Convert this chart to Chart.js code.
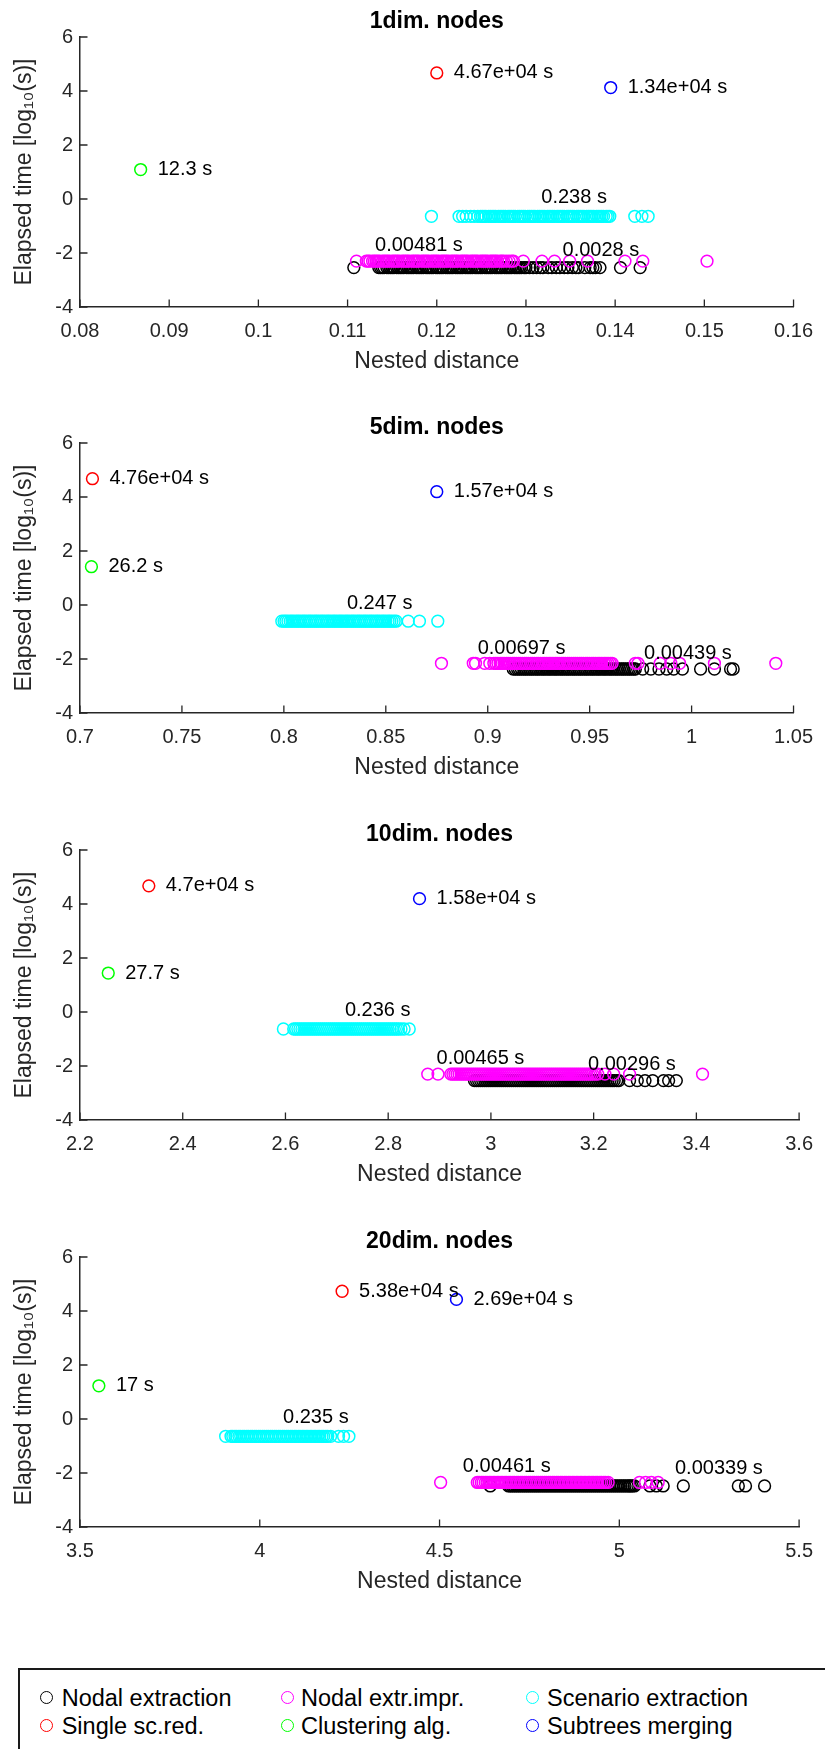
<!DOCTYPE html>
<html><head><meta charset="utf-8">
<script src="https://cdn.jsdelivr.net/npm/chart.js@4.4.1/dist/chart.umd.min.js"></script>
<style>
body{margin:0;background:#fff;width:825px;height:1749px;overflow:hidden;position:relative;font-family:"Liberation Sans",Arial,Helvetica,sans-serif;}
canvas.pan{position:absolute;left:0;}
#legendBox{position:absolute;left:18px;top:1668px;width:900px;height:200px;border:2px solid #1a1a1a;box-sizing:border-box;}
.mk{position:absolute;width:13px;height:13px;border-radius:50%;border:1.5px solid;box-sizing:border-box;}
.lt{position:absolute;font-size:23.5px;line-height:23.5px;color:#000;white-space:nowrap;}
</style></head>
<body>
<canvas class="pan" id="c0" width="825" height="406" style="top:0px"></canvas>
<canvas class="pan" id="c1" width="825" height="406" style="top:406px"></canvas>
<canvas class="pan" id="c2" width="825" height="406" style="top:813px"></canvas>
<canvas class="pan" id="c3" width="825" height="406" style="top:1220px"></canvas>
<div id="legendBox"></div>
<div id="legendItems"></div>
<script>
// ---------- axes ----------
const panelTitles = ['1dim. nodes', '5dim. nodes', '10dim. nodes', '20dim. nodes'];
const xMins = [0.08, 0.7, 2.2, 3.5];
const xMaxs = [0.16, 1.05, 3.6, 5.5];
const xTicks = [
  [0.08, 0.09, 0.1, 0.11, 0.12, 0.13, 0.14, 0.15, 0.16],
  [0.7, 0.75, 0.8, 0.85, 0.9, 0.95, 1, 1.05],
  [2.2, 2.4, 2.6, 2.8, 3, 3.2, 3.4, 3.6],
  [3.5, 4, 4.5, 5, 5.5]
];
const xTickLabels = [
  ['0.08', '0.09', '0.1', '0.11', '0.12', '0.13', '0.14', '0.15', '0.16'],
  ['0.7', '0.75', '0.8', '0.85', '0.9', '0.95', '1', '1.05'],
  ['2.2', '2.4', '2.6', '2.8', '3', '3.2', '3.4', '3.6'],
  ['3.5', '4', '4.5', '5', '5.5']
];
const yMin = -4, yMax = 6;
const yTicks = [-4, -2, 0, 2, 4, 6];
const yTickLabels = ['-4', '-2', '0', '2', '4', '6'];
const xTitle = 'Nested distance';
const yTitle = 'Elapsed time [log\u2081\u2080(s)]';

// ---------- series names ----------
const seriesNames = ['Nodal extraction', 'Nodal extr.impr.', 'Scenario extraction', 'Single sc.red.', 'Clustering alg.', 'Subtrees merging'];

// ---------- Nodal extraction (black) ----------
const nodalX = [
  [0.1107, 0.1135, 0.1137, 0.1139, 0.1141, 0.1144, 0.1146, 0.1148, 0.1150, 0.1152, 0.1155, 0.1157, 0.1159, 0.1161, 0.1163, 0.1166, 0.1168, 0.1170, 0.1172, 0.1174, 0.1177, 0.1179, 0.1181, 0.1183, 0.1185, 0.1188, 0.1190, 0.1192, 0.1194, 0.1196, 0.1199, 0.1201, 0.1203, 0.1205, 0.1207, 0.1210, 0.1212, 0.1214, 0.1216, 0.1218, 0.1221, 0.1223, 0.1225, 0.1227, 0.1229, 0.1232, 0.1234, 0.1236, 0.1238, 0.1240, 0.1243, 0.1245, 0.1247, 0.1249, 0.1251, 0.1254, 0.1256, 0.1258, 0.1260, 0.1262, 0.1265, 0.1267, 0.1269, 0.1271, 0.1273, 0.1276, 0.1278, 0.1280, 0.1282, 0.1284, 0.1287, 0.1289, 0.1291, 0.1293, 0.1295, 0.1298, 0.1300, 0.1304, 0.1308, 0.1312, 0.1316, 0.1319, 0.1325, 0.1329, 0.1334, 0.1338, 0.1343, 0.1347, 0.1352, 0.1356, 0.1359, 0.1366, 0.1372, 0.1375, 0.1378, 0.1383, 0.1406, 0.1428],
  [0.9125, 0.9135, 0.9146, 0.9155, 0.9165, 0.9176, 0.9185, 0.9195, 0.9206, 0.9215, 0.9225, 0.9236, 0.9245, 0.9255, 0.9266, 0.9275, 0.9285, 0.9296, 0.9305, 0.9315, 0.9326, 0.9335, 0.9345, 0.9356, 0.9365, 0.9375, 0.9386, 0.9395, 0.9405, 0.9416, 0.9425, 0.9435, 0.9446, 0.9455, 0.9465, 0.9476, 0.9485, 0.9495, 0.9506, 0.9515, 0.9525, 0.9536, 0.9545, 0.9555, 0.9566, 0.9575, 0.9585, 0.9596, 0.9605, 0.9615, 0.9626, 0.9635, 0.9645, 0.9656, 0.9665, 0.9675, 0.9686, 0.9695, 0.9705, 0.9716, 0.9724, 0.9760, 0.9800, 0.9840, 0.9878, 0.9912, 0.9955, 1.0044, 1.0112, 1.0191, 1.0204],
  [2.968, 2.972, 2.976, 2.980, 2.984, 2.988, 2.992, 2.996, 3.000, 3.004, 3.008, 3.012, 3.016, 3.020, 3.024, 3.028, 3.032, 3.036, 3.040, 3.044, 3.048, 3.052, 3.056, 3.060, 3.064, 3.068, 3.072, 3.076, 3.080, 3.084, 3.088, 3.092, 3.096, 3.100, 3.104, 3.108, 3.112, 3.116, 3.120, 3.124, 3.128, 3.132, 3.136, 3.140, 3.144, 3.148, 3.152, 3.156, 3.160, 3.164, 3.168, 3.172, 3.176, 3.180, 3.184, 3.188, 3.192, 3.196, 3.200, 3.204, 3.208, 3.212, 3.216, 3.220, 3.224, 3.228, 3.232, 3.236, 3.240, 3.245, 3.249, 3.270, 3.285, 3.300, 3.315, 3.336, 3.346, 3.361],
  [4.641, 4.692, 4.697, 4.703, 4.708, 4.714, 4.719, 4.725, 4.730, 4.736, 4.741, 4.747, 4.752, 4.758, 4.763, 4.769, 4.774, 4.780, 4.785, 4.791, 4.796, 4.802, 4.807, 4.813, 4.818, 4.824, 4.829, 4.835, 4.840, 4.846, 4.851, 4.857, 4.862, 4.868, 4.873, 4.879, 4.884, 4.890, 4.895, 4.901, 4.906, 4.912, 4.917, 4.923, 4.928, 4.934, 4.939, 4.945, 4.950, 4.956, 4.961, 4.967, 4.972, 4.978, 4.983, 4.989, 4.994, 5.000, 5.005, 5.011, 5.016, 5.022, 5.027, 5.031, 5.036, 5.042, 5.085, 5.103, 5.122, 5.178, 5.331, 5.351, 5.404]
];
const nodalY = [-2.54, -2.37, -2.54, -2.48];
const nodalLabel = ['0.0028 s', '0.00439 s', '0.00296 s', '0.00339 s'];
const nodalLabelAt = [[0.1384, -1.90], [0.9982, -1.80], [3.2745, -1.94], [5.277, -1.85]];

// ---------- Nodal extr.impr. (magenta) ----------
const imprX = [
  [0.1110, 0.1121, 0.1123, 0.1125, 0.1128, 0.1130, 0.1132, 0.1134, 0.1136, 0.1139, 0.1141, 0.1143, 0.1145, 0.1147, 0.1150, 0.1152, 0.1154, 0.1156, 0.1158, 0.1161, 0.1163, 0.1165, 0.1167, 0.1169, 0.1172, 0.1174, 0.1176, 0.1178, 0.1180, 0.1183, 0.1185, 0.1187, 0.1189, 0.1191, 0.1194, 0.1196, 0.1198, 0.1200, 0.1202, 0.1205, 0.1207, 0.1209, 0.1211, 0.1213, 0.1216, 0.1218, 0.1220, 0.1222, 0.1224, 0.1227, 0.1229, 0.1231, 0.1233, 0.1235, 0.1238, 0.1240, 0.1242, 0.1244, 0.1246, 0.1249, 0.1251, 0.1253, 0.1255, 0.1257, 0.1260, 0.1262, 0.1264, 0.1266, 0.1268, 0.1271, 0.1273, 0.1275, 0.1278, 0.1281, 0.1284, 0.1286, 0.1297, 0.1318, 0.1332, 0.1349, 0.1369, 0.1411, 0.1431, 0.1503],
  [0.8773, 0.8929, 0.8940, 0.8985, 0.9010, 0.9030, 0.9040, 0.9050, 0.9061, 0.9070, 0.9080, 0.9091, 0.9100, 0.9110, 0.9121, 0.9130, 0.9140, 0.9151, 0.9160, 0.9170, 0.9181, 0.9190, 0.9200, 0.9211, 0.9220, 0.9230, 0.9241, 0.9250, 0.9260, 0.9271, 0.9280, 0.9290, 0.9301, 0.9310, 0.9320, 0.9331, 0.9340, 0.9350, 0.9361, 0.9370, 0.9380, 0.9391, 0.9400, 0.9410, 0.9421, 0.9430, 0.9440, 0.9451, 0.9460, 0.9470, 0.9481, 0.9490, 0.9500, 0.9511, 0.9520, 0.9530, 0.9541, 0.9550, 0.9560, 0.9571, 0.9580, 0.9590, 0.9601, 0.9610, 0.9724, 0.9737, 0.9846, 0.9898, 0.9941, 1.0112, 1.0413],
  [2.877, 2.897, 2.922, 2.926, 2.930, 2.934, 2.938, 2.942, 2.946, 2.950, 2.954, 2.958, 2.962, 2.966, 2.970, 2.974, 2.978, 2.982, 2.986, 2.990, 2.994, 2.998, 3.002, 3.006, 3.010, 3.014, 3.018, 3.022, 3.026, 3.030, 3.034, 3.038, 3.042, 3.046, 3.050, 3.054, 3.058, 3.062, 3.066, 3.070, 3.074, 3.078, 3.082, 3.086, 3.090, 3.094, 3.098, 3.102, 3.106, 3.110, 3.114, 3.118, 3.122, 3.126, 3.130, 3.134, 3.138, 3.142, 3.146, 3.150, 3.154, 3.158, 3.162, 3.166, 3.170, 3.174, 3.178, 3.182, 3.186, 3.190, 3.194, 3.198, 3.203, 3.208, 3.222, 3.239, 3.270, 3.412],
  [4.503, 4.605, 4.610, 4.616, 4.621, 4.627, 4.632, 4.638, 4.643, 4.649, 4.654, 4.660, 4.665, 4.671, 4.676, 4.682, 4.687, 4.693, 4.698, 4.704, 4.709, 4.715, 4.720, 4.726, 4.731, 4.737, 4.742, 4.748, 4.753, 4.759, 4.764, 4.770, 4.775, 4.781, 4.786, 4.792, 4.797, 4.803, 4.808, 4.814, 4.819, 4.825, 4.830, 4.836, 4.841, 4.847, 4.852, 4.858, 4.863, 4.869, 4.874, 4.880, 4.885, 4.891, 4.896, 4.902, 4.907, 4.913, 4.918, 4.924, 4.929, 4.935, 4.940, 4.946, 4.951, 4.957, 4.962, 4.969, 5.056, 5.073, 5.089, 5.108]
];
const imprY = [-2.30, -2.16, -2.30, -2.35];
const imprLabel = ['0.00481 s', '0.00697 s', '0.00465 s', '0.00461 s'];
const imprLabelAt = [[0.1180, -1.73], [0.9166, -1.60], [2.9796, -1.73], [4.687, -1.75]];

// ---------- Scenario extraction (cyan) ----------
const scenX = [
  [0.1194, 0.1225, 0.1229, 0.1233, 0.1238, 0.1242, 0.1246, 0.1249, 0.1251, 0.1253, 0.1255, 0.1258, 0.1260, 0.1262, 0.1264, 0.1266, 0.1269, 0.1271, 0.1273, 0.1275, 0.1277, 0.1280, 0.1282, 0.1284, 0.1286, 0.1288, 0.1291, 0.1293, 0.1295, 0.1297, 0.1299, 0.1302, 0.1304, 0.1306, 0.1308, 0.1310, 0.1313, 0.1315, 0.1317, 0.1319, 0.1321, 0.1324, 0.1326, 0.1328, 0.1330, 0.1332, 0.1335, 0.1337, 0.1339, 0.1341, 0.1343, 0.1346, 0.1348, 0.1350, 0.1352, 0.1354, 0.1357, 0.1359, 0.1361, 0.1363, 0.1365, 0.1368, 0.1370, 0.1372, 0.1374, 0.1376, 0.1379, 0.1381, 0.1383, 0.1385, 0.1387, 0.1390, 0.1392, 0.1394, 0.1422, 0.1430, 0.1437],
  [0.7990, 0.8001, 0.8010, 0.8020, 0.8031, 0.8040, 0.8050, 0.8061, 0.8070, 0.8080, 0.8091, 0.8100, 0.8110, 0.8121, 0.8130, 0.8140, 0.8151, 0.8160, 0.8170, 0.8181, 0.8190, 0.8200, 0.8211, 0.8220, 0.8230, 0.8241, 0.8250, 0.8260, 0.8271, 0.8280, 0.8290, 0.8301, 0.8310, 0.8320, 0.8331, 0.8340, 0.8350, 0.8361, 0.8370, 0.8380, 0.8391, 0.8400, 0.8410, 0.8421, 0.8430, 0.8440, 0.8451, 0.8460, 0.8470, 0.8481, 0.8490, 0.8500, 0.8511, 0.8520, 0.8530, 0.8541, 0.8551, 0.8610, 0.8665, 0.8755],
  [2.596, 2.616, 2.620, 2.624, 2.628, 2.632, 2.636, 2.640, 2.644, 2.648, 2.652, 2.656, 2.660, 2.664, 2.668, 2.672, 2.676, 2.680, 2.684, 2.688, 2.692, 2.696, 2.700, 2.704, 2.708, 2.712, 2.716, 2.720, 2.724, 2.728, 2.732, 2.736, 2.740, 2.744, 2.748, 2.752, 2.756, 2.760, 2.764, 2.768, 2.772, 2.776, 2.780, 2.784, 2.788, 2.792, 2.796, 2.800, 2.804, 2.808, 2.812, 2.816, 2.820, 2.825, 2.831, 2.841],
  [3.905, 3.920, 3.925, 3.931, 3.936, 3.942, 3.947, 3.953, 3.958, 3.964, 3.969, 3.975, 3.980, 3.986, 3.991, 3.997, 4.002, 4.008, 4.013, 4.019, 4.024, 4.030, 4.035, 4.041, 4.046, 4.052, 4.057, 4.063, 4.068, 4.074, 4.079, 4.085, 4.090, 4.096, 4.101, 4.107, 4.112, 4.118, 4.123, 4.129, 4.134, 4.140, 4.145, 4.151, 4.156, 4.162, 4.167, 4.173, 4.178, 4.184, 4.189, 4.197, 4.219, 4.233, 4.248]
];
const scenY = [-0.64, -0.60, -0.63, -0.64];
const scenLabel = ['0.238 s', '0.247 s', '0.236 s', '0.235 s'];
const scenLabelAt = [[0.1354, 0.07], [0.847, 0.07], [2.7796, 0.07], [4.156, 0.07]];

// ---------- single points ----------
const singleX = [0.1200, 0.7061, 2.334, 4.229];
const singleY = [4.669, 4.678, 4.672, 4.731];
const singleLabel = ['4.67e+04 s', '4.76e+04 s', '4.7e+04 s', '5.38e+04 s'];
const clustX = [0.0868, 0.7056, 2.255, 3.5525];
const clustY = [1.090, 1.418, 1.442, 1.230];
const clustLabel = ['12.3 s', '26.2 s', '27.7 s', '17 s'];
const mergeX = [0.1395, 0.8750, 2.861, 4.547];
const mergeY = [4.127, 4.196, 4.199, 4.430];
const mergeLabel = ['1.34e+04 s', '1.57e+04 s', '1.58e+04 s', '2.69e+04 s'];

// ---------- styles ----------
const FONT = "'Liberation Sans', Arial, Helvetica, sans-serif";
const AXIS = '#262626';
const seriesColors = ['#000000', '#ff00ff', '#00ffff', '#ff0000', '#00ff00', '#0000ff'];
Chart.defaults.font.family = FONT;
Chart.defaults.color = '#262626';

function pts(xs, y) { return xs.map(x => ({x: x, y: y})); }

const decor = {
  id: 'decor',
  afterDatasetsDraw(chart) {
    const o = chart.options.plugins.decor;
    const ctx = chart.ctx, a = chart.chartArea;
    const xs = chart.scales.x, ys = chart.scales.y;
    ctx.save();
    ctx.strokeStyle = AXIS; ctx.lineWidth = 1.3;
    ctx.beginPath();
    xs.ticks.forEach(t => { const p = xs.getPixelForValue(t.value); ctx.moveTo(p, a.bottom); ctx.lineTo(p, a.bottom - 7.5); });
    ys.ticks.forEach(t => { const p = ys.getPixelForValue(t.value); ctx.moveTo(a.left, p); ctx.lineTo(a.left + 7.5, p); });
    ctx.stroke();
    ctx.fillStyle = '#000';
    ctx.font = 'bold 23px ' + FONT;
    ctx.textAlign = 'center'; ctx.textBaseline = 'alphabetic';
    ctx.fillText(o.title, (a.left + a.right) / 2, 27.5);
    ctx.font = '20px ' + FONT;
    ctx.textBaseline = 'middle';
    o.pointLabels.forEach(l => {
      ctx.textAlign = 'left';
      ctx.fillText(l.text, xs.getPixelForValue(l.x) + 17, ys.getPixelForValue(l.y));
    });
    o.clusterLabels.forEach(l => {
      ctx.textAlign = 'center';
      ctx.fillText(l.text, xs.getPixelForValue(l.x), ys.getPixelForValue(l.y));
    });
    ctx.restore();
  }
};

for (let i = 0; i < 4; i++) {
  const ds = (label, data, color) => ({
    label: label, data: data, borderColor: color, backgroundColor: 'rgba(0,0,0,0)',
    pointRadius: 5.9, pointBorderWidth: 1.5, pointHoverRadius: 5.9, showLine: false
  });
  new Chart(document.getElementById('c' + i), {
    type: 'scatter',
    data: {
      datasets: [
        ds(seriesNames[3], pts([singleX[i]], singleY[i]), seriesColors[3]),
        ds(seriesNames[4], pts([clustX[i]], clustY[i]), seriesColors[4]),
        ds(seriesNames[5], pts([mergeX[i]], mergeY[i]), seriesColors[5]),
        ds(seriesNames[2], pts(scenX[i], scenY[i]), seriesColors[2]),
        ds(seriesNames[1], pts(imprX[i], imprY[i]), seriesColors[1]),
        ds(seriesNames[0], pts(nodalX[i], nodalY[i]), seriesColors[0])
      ]
    },
    options: {
      responsive: false, animation: false, events: [],
      layout: { padding: { left: 0, right: 24, top: 37, bottom: 0 } },
      plugins: {
        legend: { display: false }, tooltip: { enabled: false }, title: { display: false },
        decor: {
          title: panelTitles[i],
          pointLabels: [
            {text: singleLabel[i], x: singleX[i], y: singleY[i]},
            {text: clustLabel[i], x: clustX[i], y: clustY[i]},
            {text: mergeLabel[i], x: mergeX[i], y: mergeY[i]}
          ],
          clusterLabels: [
            {text: scenLabel[i], x: scenLabelAt[i][0], y: scenLabelAt[i][1]},
            {text: imprLabel[i], x: imprLabelAt[i][0], y: imprLabelAt[i][1]},
            {text: nodalLabel[i], x: nodalLabelAt[i][0], y: nodalLabelAt[i][1]}
          ]
        }
      },
      scales: {
        x: {
          type: 'linear', min: xMins[i], max: xMaxs[i],
          afterBuildTicks: s => { s.ticks = xTicks[i].map(v => ({value: v})); },
          afterFit: s => { s.height = 99; },
          ticks: { autoSkip: false, maxRotation: 0, padding: 12, color: '#262626', font: {size: 20},
                   callback: (v, idx) => xTickLabels[i][idx] },
          grid: { display: true, drawOnChartArea: false, drawTicks: false },
          border: { display: true, color: AXIS, width: 1.5 },
          title: { display: true, text: xTitle, color: '#262626', font: {size: 23}, padding: {top: 0, bottom: 31} }
        },
        y: {
          type: 'linear', min: yMin, max: yMax,
          afterBuildTicks: s => { s.ticks = yTicks.map(v => ({value: v})); },
          afterFit: s => { s.width = 80; },
          ticks: { autoSkip: false, padding: 7, color: '#262626', font: {size: 20},
                   callback: (v, idx) => yTickLabels[idx] },
          grid: { display: true, drawOnChartArea: false, drawTicks: false },
          border: { display: true, color: AXIS, width: 1.5 },
          title: { display: true, text: yTitle, color: '#262626', font: {size: 23}, padding: {top: 10.5, bottom: 0} }
        }
      }
    },
    plugins: [decor]
  });
}

// ---------- legend ----------
const legendPos = [
  {mx: 46.7, my: 1697, tx: 61.7}, {mx: 287, my: 1697, tx: 301}, {mx: 532, my: 1697, tx: 547},
  {mx: 46.7, my: 1725, tx: 61.7}, {mx: 287, my: 1725, tx: 301}, {mx: 532, my: 1725, tx: 547}
];
const li = document.getElementById('legendItems');
seriesNames.forEach((n, k) => {
  const p = legendPos[k];
  const m = document.createElement('div');
  m.className = 'mk';
  m.style.left = (p.mx - 6.5) + 'px'; m.style.top = (p.my - 6.5) + 'px';
  m.style.borderColor = seriesColors[k];
  li.appendChild(m);
  const t = document.createElement('div');
  t.className = 'lt';
  t.textContent = n;
  t.style.left = p.tx + 'px'; t.style.top = (p.my + 10 - 19.9) + 'px';
  li.appendChild(t);
});
</script>
</body></html>
